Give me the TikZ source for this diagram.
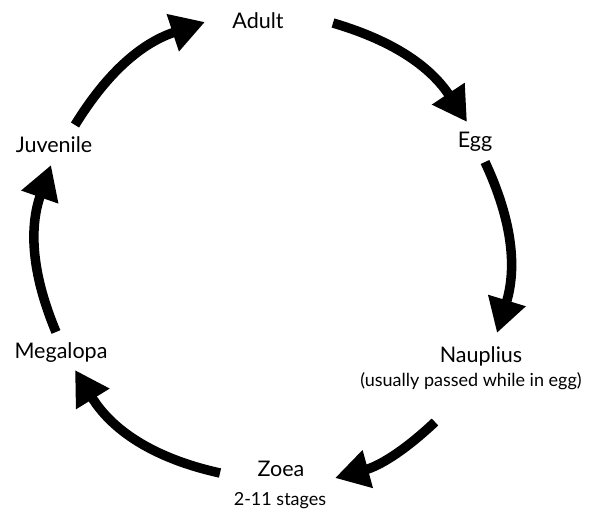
\documentclass[tikz,border=0pt]{standalone}
\usepackage{fontspec}
\setmainfont{Lato}
\usetikzlibrary{arrows.meta}
\begin{document}
\begin{tikzpicture}[x=1pt,y=-1pt,
  lbl/.style={anchor=base,inner sep=0pt,font=\fontsize{21.5}{25}\selectfont},
  sub/.style={anchor=base,inner sep=0pt,font=\fontsize{18}{21}\selectfont},
  cyc/.style={line width=9.5pt,-{Triangle[length=34pt,width=37pt]}}]
\useasboundingbox (0,0) rectangle (598,511);
\node[lbl] (adult) at (258,29) {Adult};
\node[lbl] (egg) at (475,148) {Egg};
\node[lbl] (naup) at (481,362) {Nauplius};
\node[sub] (naupsub) at (471,386) {(usually passed while in egg)};
\node[lbl] (zoea) at (281,476) {Zoea};
\node[sub] (zoeasub) at (280,505) {2-11 stages};
\node[lbl] (mega) at (61,358) {Megalopa};
\node[lbl] (juv) at (54,153) {Juvenile};
\coordinate (a1s) at (333,23);  \coordinate (a1e) at (467,122);
\coordinate (a2s) at (485,162); \coordinate (a2e) at (497,333);
\coordinate (a3s) at (435,422); \coordinate (a3e) at (335,478);
\coordinate (a4s) at (220,473); \coordinate (a4e) at (75,370);
\coordinate (a5s) at (56,332);  \coordinate (a5e) at (51,165);
\coordinate (a6s) at (75,125);  \coordinate (a6e) at (205,22);
\draw[cyc] (a1s) to[bend left=20] (a1e);
\draw[cyc] (a2s) to[bend left=21] (a2e);
\draw[cyc] (a3s) to[bend left=14] (a3e);
\draw[cyc] (a4s) to[bend left=23] (a4e);
\draw[cyc] (a5s) to[bend left=21] (a5e);
\draw[cyc] (a6s) to[bend left=20] (a6e);
\end{tikzpicture}
\end{document}
